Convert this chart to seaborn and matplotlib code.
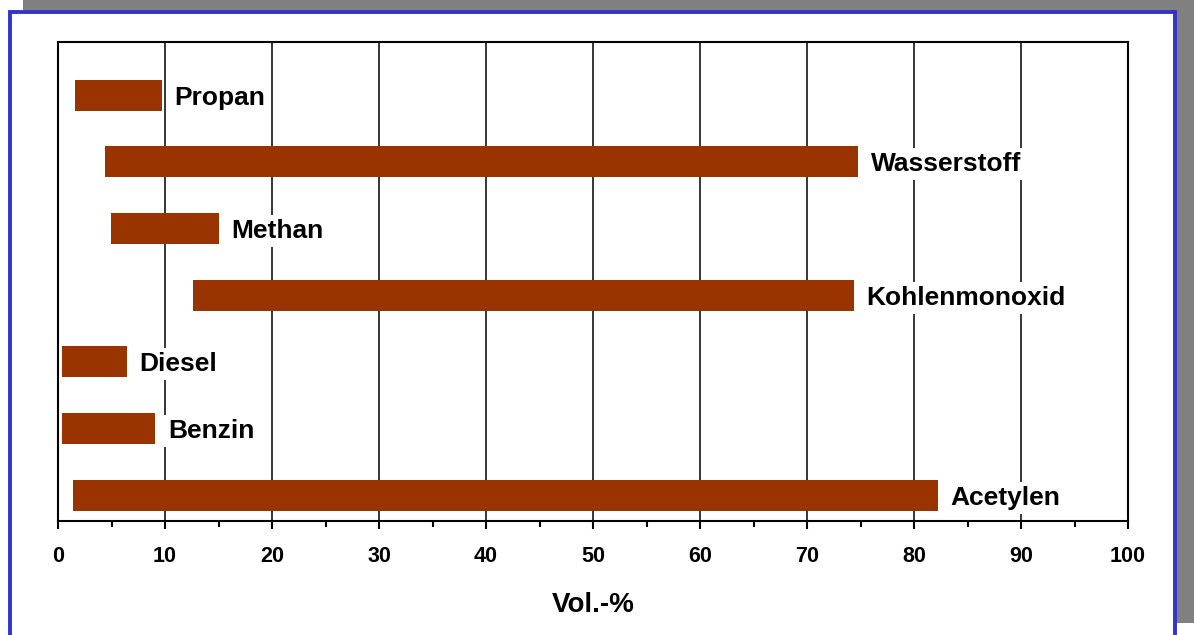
import pandas as pd
import matplotlib
matplotlib.use("Agg")
import matplotlib.pyplot as plt
import seaborn as sns
from matplotlib.patches import Rectangle
from matplotlib.ticker import MultipleLocator

# Explosionsgrenzen in Vol.-%
stoffe = ["Propan", "Wasserstoff", "Methan", "Kohlenmonoxid", "Diesel", "Benzin", "Acetylen"]
ueg = [1.6, 4.4, 4.95, 12.6, 0.4, 0.4, 1.4]
oeg = [9.7, 74.8, 15.0, 74.4, 6.45, 9.1, 82.2]

df = pd.DataFrame({"stoff": stoffe, "ueg": ueg, "oeg": oeg})
df["bereich"] = df["oeg"] - df["ueg"]

sns.set_theme(style="white")
plt.rcParams["font.family"] = ["Liberation Sans", "DejaVu Sans"]
plt.rcParams["font.weight"] = "bold"

W, H = 1194, 635
fig = plt.figure(figsize=(W / 100, H / 100), dpi=100)

# grauer Schatten + blauer Rahmen
fig.patches.append(Rectangle((23 / W, (H - 623) / H), 1.0, 1.0,
                             transform=fig.transFigure, facecolor="#808080",
                             edgecolor="none", zorder=-3))
fig.patches.append(Rectangle((9.5 / W, -0.05), (1174.5 - 9.5) / W, 1.05 - 12 / H,
                             transform=fig.transFigure, facecolor="white",
                             edgecolor="#3333CC", linewidth=2.8, zorder=-2))

ax = fig.add_axes([58 / W, 1 - 521 / H, (1128 - 58) / W, (521 - 42) / H])
ax.set_facecolor("white")

sns.barplot(data=df, x="bereich", y="stoff", color="#993300", saturation=1,
            width=0.465, orient="h", linewidth=0, ax=ax)

# Balken auf die untere Grenze verschieben
for patch, lo in zip(ax.patches, df["ueg"]):
    patch.set_x(lo)

for i, row in df.iterrows():
    ax.annotate(row["stoff"], xy=(row["oeg"], i), xytext=(9, -2),
                textcoords="offset points", ha="left", va="center",
                fontsize=19, fontweight="bold", color="black", zorder=5,
                bbox=dict(boxstyle="square,pad=0.15", fc="white", ec="none"))

ax.set_xlim(0, 100)
ax.set_ylim(6.39, -0.795)
ax.xaxis.set_major_locator(MultipleLocator(10))
ax.xaxis.set_minor_locator(MultipleLocator(5))
ax.xaxis.grid(True, which="major", color="black", linewidth=1.1)
ax.set_axisbelow(True)

ax.tick_params(axis="x", which="major", bottom=True, direction="out",
               length=6, width=1.5, color="black", pad=12, labelsize=15.5,
               labelcolor="black")
ax.tick_params(axis="x", which="minor", bottom=True, direction="out",
               length=4, width=1.5, color="black")
ax.tick_params(axis="y", left=False, labelleft=False)
for lab in ax.get_xticklabels():
    lab.set_fontweight("bold")

for s in ax.spines.values():
    s.set_visible(True)
    s.set_color("black")
    s.set_linewidth(1.5)

ax.set_ylabel("")
ax.set_xlabel("Vol.-%", fontsize=20, fontweight="bold", color="black", labelpad=18)

fig.savefig("out.png", dpi=100)
